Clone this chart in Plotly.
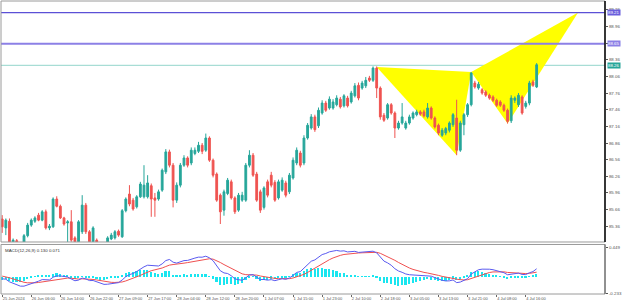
import plotly.graph_objects as go
import numpy as np

# ---------------- data ----------------
opens = [85.49,85.33,85.45,85.06,85.10,84.98,85.05,85.19,85.38,85.45,
         85.56,85.47,85.62,85.33,85.35,85.85,85.72,85.51,85.42,85.44,
         85.15,85.08,85.26,85.74,85.26,85.08,85.11,85.03,84.95,85.02,
         85.13,85.15,85.27,85.17,85.64,85.94,85.83,85.71,85.89,85.89,
         85.89,86.09,85.87,85.85,86.01,86.34,86.70,86.46,85.83,86.10,
         86.46,86.59,86.50,86.67,86.71,86.82,86.73,86.95,86.55,86.30,
         85.92,85.65,85.95,86.16,85.87,85.65,85.83,85.83,86.46,86.64,
         86.30,85.98,85.70,86.16,86.28,86.15,85.87,86.01,86.14,85.98,
         86.23,86.50,86.68,86.50,86.95,87.13,87.33,87.17,87.40,87.58,
         87.49,87.49,87.55,87.65,87.53,87.67,87.60,87.71,87.90,87.85,
         87.89,88.03,87.99,88.21,87.85,87.36,87.31,87.55,87.40,87.13,
         87.22,87.13,87.22,87.31,87.37,87.42,87.42,87.33,87.49,87.31,
         87.18,87.00,87.04,87.09,87.19,87.31,86.73,87.19,87.37,87.55,
         87.94,87.85,87.82,87.78,87.72,87.69,87.63,87.60,87.54,87.45,
         87.26,87.63,87.55,87.69,87.52,87.58,87.96,87.87]
highs = [85.56,85.50,85.50,85.14,85.13,85.06,85.22,85.42,85.50,85.54,
         85.60,85.65,85.66,85.40,85.88,85.90,85.75,85.53,85.47,85.65,
         85.18,85.47,85.92,85.78,85.29,85.36,85.14,85.06,85.05,85.18,
         85.24,85.29,85.30,85.67,85.88,86.10,85.87,85.92,86.16,86.46,
         86.28,86.13,85.96,86.02,86.40,86.75,86.74,86.50,86.15,86.50,
         86.64,86.62,86.78,86.78,86.88,86.86,87.03,86.98,86.58,86.33,
         85.95,86.02,86.23,86.20,85.90,85.96,85.98,86.50,86.73,86.68,
         86.34,86.02,86.08,86.20,86.34,86.19,86.20,86.24,86.18,86.32,
         86.60,86.78,86.72,87.00,87.22,87.38,87.37,87.50,87.63,87.62,
         87.70,87.65,87.72,87.69,87.74,87.71,87.80,87.94,87.95,87.98,
         88.05,88.07,88.24,88.24,87.88,87.40,87.58,87.58,87.43,87.26,
         87.58,87.26,87.37,87.43,87.46,87.45,87.46,87.58,87.52,87.34,
         87.21,87.13,87.15,87.25,87.40,87.64,87.26,87.40,87.58,88.14,
         87.98,87.96,87.85,87.81,87.75,87.72,87.66,87.63,87.57,87.48,
         87.72,87.70,87.76,87.72,87.62,87.98,88.00,88.30]
lows = [85.24,85.20,84.95,84.98,84.98,84.92,85.00,85.16,85.35,85.42,
        85.45,85.45,85.30,85.29,85.33,85.70,85.49,85.37,85.06,85.08,
        85.05,85.06,85.22,85.22,85.05,85.05,84.98,84.90,84.90,84.99,
        85.11,85.12,85.17,85.15,85.61,85.72,85.64,85.68,85.87,85.86,
        85.86,85.53,85.53,85.82,85.98,86.30,86.42,85.70,85.78,86.06,
        86.43,86.42,86.46,86.64,86.68,86.66,86.70,86.52,86.24,85.80,
        85.40,85.55,85.92,85.84,85.58,85.62,85.80,85.80,86.42,86.25,
        85.80,85.60,85.66,85.88,86.06,85.80,85.84,85.98,85.88,85.94,
        86.20,86.46,86.42,86.46,86.92,87.10,87.06,87.13,87.37,87.42,
        87.46,87.46,87.52,87.48,87.50,87.50,87.57,87.68,87.63,87.82,
        87.85,87.96,87.96,87.67,87.28,87.24,87.28,87.37,86.95,87.10,
        87.19,87.10,87.19,87.28,87.34,87.35,87.32,87.30,87.28,87.12,
        87.00,86.97,87.00,87.05,87.15,86.64,86.70,87.00,87.33,87.52,
        87.84,87.82,87.73,87.69,87.64,87.60,87.51,87.51,87.42,87.21,
        87.22,87.58,87.51,87.37,87.48,87.54,87.87,87.85]
closes = [85.35,85.47,85.04,85.11,85.05,85.03,85.19,85.38,85.47,85.51,
          85.47,85.62,85.33,85.36,85.85,85.72,85.51,85.40,85.44,85.11,
          85.08,85.44,85.74,85.26,85.08,85.33,85.03,84.95,85.02,85.15,
          85.20,85.26,85.20,85.64,85.85,85.76,85.67,85.89,86.12,86.10,
          86.14,85.85,85.83,85.98,86.37,86.70,86.46,85.83,86.10,86.46,
          86.59,86.46,86.73,86.73,86.82,86.71,86.95,86.55,86.28,85.83,
          85.62,85.98,86.19,85.87,85.62,85.92,85.92,86.46,86.64,86.28,
          85.83,85.65,86.05,85.92,86.10,85.83,86.16,86.19,85.92,86.28,
          86.55,86.73,86.46,86.95,87.18,87.33,87.10,87.45,87.58,87.45,
          87.65,87.60,87.67,87.51,87.71,87.53,87.76,87.89,87.67,87.94,
          87.99,87.99,88.21,87.85,87.33,87.27,87.55,87.40,87.13,87.22,
          87.33,87.22,87.33,87.40,87.42,87.38,87.35,87.49,87.31,87.15,
          87.04,87.09,87.12,87.22,87.37,86.73,87.22,87.37,87.55,88.12,
          87.87,87.92,87.76,87.72,87.67,87.63,87.54,87.54,87.45,87.25,
          87.67,87.67,87.72,87.40,87.58,87.94,87.90,88.27]

date_tick_idx = [0, 8, 16, 24, 32, 40, 48, 56, 64, 72, 80, 88, 96, 104,
                 112, 120, 128, 136, 144]
date_tick_text = ["25 Jun 2024", "26 Jun 06:00", "26 Jun 14:00", "26 Jun 22:00",
                  "27 Jun 09:00", "27 Jun 17:00", "28 Jun 04:00", "28 Jun 12:00",
                  "28 Jun 20:00", "1 Jul 07:00", "1 Jul 15:00", "1 Jul 23:00",
                  "2 Jul 10:00", "2 Jul 18:00", "3 Jul 05:00", "3 Jul 13:00",
                  "3 Jul 21:00", "4 Jul 08:00", "4 Jul 16:00"]

price_ticks = [85.36, 85.66, 85.96, 86.26, 86.56, 86.86, 87.16, 87.46,
               87.76, 88.06, 88.36, 88.66, 88.96, 89.26]

level_prices = [89.21, 88.65]
level_labels = ["89.21", "88.65"]
last_price = 88.26

# harmonic pattern X, A, B, C, D (bar index, price)
pattern_idx = [103, 125, 129, 139, 158.4]
pattern_price = [88.23, 86.64, 88.14, 87.21, 89.21]

macd_fast, macd_slow, macd_signal = 12, 26, 9
# indicator state carried in from the bars before the visible window
ema_seed_fast, ema_seed_slow, signal_seed = 85.60, 85.60, 0.03
macd_scale_ticks = [0.449, -0.233]
macd_title = "MACD(12,26,9) 0.130 0.071"

# ---------------- indicator ----------------
def ema(a, n, seed):
    k = 2.0 / (n + 1)
    out, e = [], seed
    for v in a:
        e = k * v + (1 - k) * e
        out.append(e)
    return np.array(out)

macd_line = ema(closes, macd_fast, ema_seed_fast) - ema(closes, macd_slow, ema_seed_slow)
signal_line = ema(macd_line, macd_signal, signal_seed)
hist = macd_line - signal_line

idx = list(range(len(closes)))

FONT = "Liberation Sans"
UP, DOWN = "#26a69a", "#ef5350"

fig = go.Figure()

fig.add_trace(go.Candlestick(
    x=idx, open=opens, high=highs, low=lows, close=closes,
    increasing=dict(line=dict(color=UP, width=1), fillcolor=UP),
    decreasing=dict(line=dict(color=DOWN, width=1), fillcolor=DOWN),
    whiskerwidth=0, xaxis="x", yaxis="y", showlegend=False))

# MACD
fig.add_trace(go.Bar(x=idx, y=hist, marker=dict(color="#19e6f0", line=dict(width=0)),
                     width=0.45, xaxis="x2", yaxis="y2"))
fig.add_trace(go.Scatter(x=idx, y=signal_line, mode="lines",
                         line=dict(color="#f05050", width=1), xaxis="x2", yaxis="y2"))
fig.add_trace(go.Scatter(x=idx, y=macd_line, mode="lines",
                         line=dict(color="#5a5af0", width=1), xaxis="x2", yaxis="y2"))

xr = [-0.33, 165.8]
shapes = []
# harmonic pattern triangles (drawn beneath the candles)
for a, b, c in [(0, 1, 2), (2, 3, 4)]:
    path = "M {},{} L {},{} L {},{} Z".format(
        pattern_idx[a], pattern_price[a], pattern_idx[b], pattern_price[b],
        pattern_idx[c], pattern_price[c])
    shapes.append(dict(type="path", xref="x", yref="y", path=path,
                       fillcolor="#ffff00", line=dict(width=0), layer="below"))
# level lines
shapes.append(dict(type="line", xref="x domain", yref="y", x0=0, x1=1,
                   y0=level_prices[0], y1=level_prices[0],
                   line=dict(color="#5b50d6", width=1.2)))
shapes.append(dict(type="line", xref="x domain", yref="y", x0=0, x1=1,
                   y0=level_prices[1], y1=level_prices[1],
                   line=dict(color="#8c80e6", width=2)))
shapes.append(dict(type="line", xref="x domain", yref="y", x0=0, x1=1,
                   y0=last_price, y1=last_price,
                   line=dict(color="#93d5cb", width=1), layer="below"))
# frames
shapes.append(dict(type="rect", xref="paper", yref="paper", x0=0, x1=1,
                   y0=0.1775, y1=1, line=dict(color="#9a9a9a", width=1), layer="above"))
shapes.append(dict(type="rect", xref="paper", yref="paper", x0=0, x1=1,
                   y0=0, y1=0.169, line=dict(color="#9a9a9a", width=1), layer="above"))
shapes.append(dict(type="line", xref="paper", yref="paper", x0=1, x1=1,
                   y0=0, y1=0.169, line=dict(color="#555", width=1), layer="above"))
shapes.append(dict(type="line", xref="paper", yref="paper", x0=1, x1=1,
                   y0=0.1775, y1=1, line=dict(color="#111", width=1.6), layer="above"))

annotations = []
for p, t, c in [(level_prices[0], level_labels[0], "#6a5fdc"),
                (level_prices[1], level_labels[1], "#8c80e6"),
                (last_price, f"{last_price:.2f}", "#26a69a")]:
    annotations.append(dict(xref="paper", yref="y", x=1.003, y=p, text=t,
                            showarrow=False, xanchor="left", yanchor="middle",
                            font=dict(family=FONT, size=4.4, color="white"),
                            bgcolor=c, borderpad=0))
annotations.append(dict(xref="paper", yref="paper", x=0.004, y=0.163, text=macd_title,
                        showarrow=False, xanchor="left", yanchor="top",
                        font=dict(family=FONT, size=4.4, color="#333")))

fig.update_layout(
    width=625, height=305,
    margin=dict(l=1, r=20, t=1, b=11),
    paper_bgcolor="white", plot_bgcolor="white",
    showlegend=False, bargap=0,
    font=dict(family=FONT, size=4.4, color="#555"),
    xaxis=dict(domain=[0, 1], range=xr, anchor="y", showticklabels=False,
               showgrid=False, zeroline=False, rangeslider=dict(visible=False),
               ticks=""),
    yaxis=dict(domain=[0.1775, 1], range=[85.076, 89.419], side="right",
               tickvals=price_ticks, ticktext=[f"{v:.2f}" for v in price_ticks],
               showgrid=False, zeroline=False, ticks="outside", ticklen=2,
               tickcolor="#555", tickfont=dict(size=4.4, color="#555")),
    xaxis2=dict(domain=[0, 1], range=xr, anchor="y2", matches="x",
                tickvals=date_tick_idx, ticktext=date_tick_text, tickangle=0,
                ticklabelposition="outside right", ticks="outside", ticklen=2,
                tickcolor="#666", tickfont=dict(size=4.0, color="#555"),
                showgrid=False, zeroline=False),
    yaxis2=dict(domain=[0, 0.169], range=[-0.245, 0.489], side="right",
                tickvals=macd_scale_ticks, ticktext=["0.449", "-0.233"],
                showgrid=False, zeroline=False, ticks="outside", ticklen=2,
                tickcolor="#555", tickfont=dict(size=4.4, color="#555")),
    shapes=shapes, annotations=annotations,
)

fig.write_html("out.html")
